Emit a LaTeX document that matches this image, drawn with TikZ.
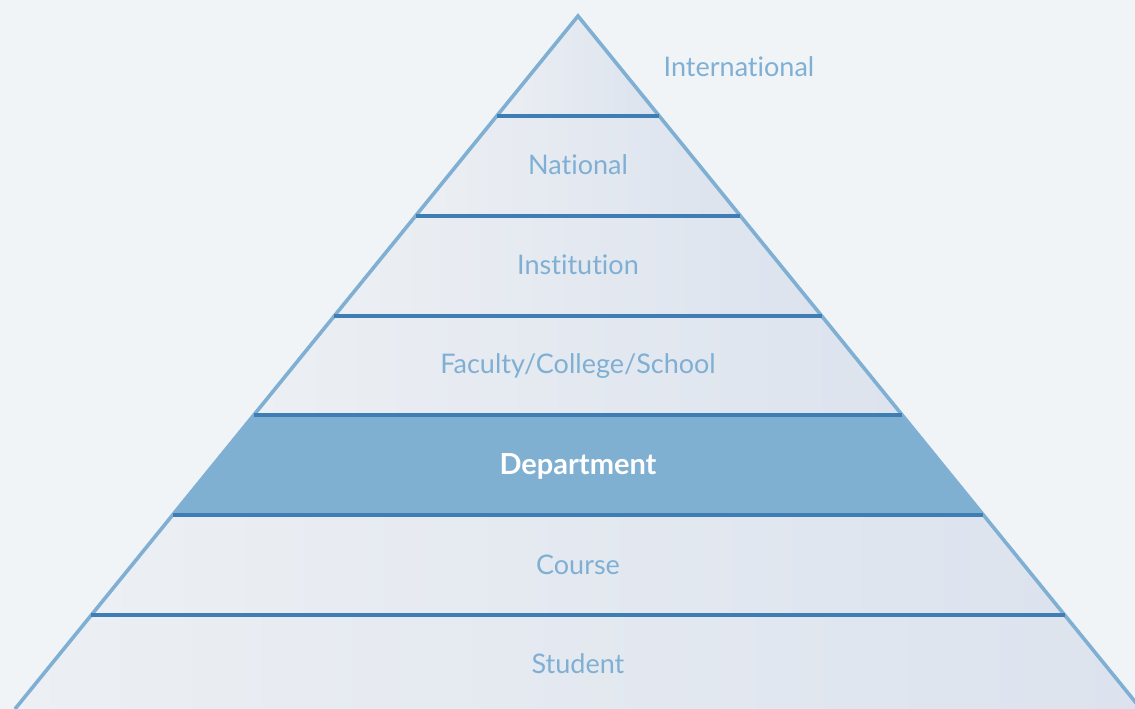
\documentclass[tikz,border=0pt]{standalone}
\usepackage{fontspec}
\setmainfont{Lato}[Ligatures=NoCommon]
\usetikzlibrary{calc}
\definecolor{bgc}{HTML}{F0F4F7}
\definecolor{edgec}{HTML}{7FB0D4}
\definecolor{bandc}{HTML}{3F7DB5}
\definecolor{deptc}{HTML}{7FAFD1}
\definecolor{lightL}{HTML}{ECEFF3}
\definecolor{lightR}{HTML}{DCE3EE}
\definecolor{txtc}{HTML}{7FB0D4}
\tikzset{
  lvl/.style={font=\fontsize{27}{32}\selectfont, text=txtc, inner sep=0pt, anchor=center},
  deptlbl/.style={font=\bfseries\fontsize{29}{34}\selectfont, text=white, inner sep=0pt},
  bandline/.style={draw=bandc, line width=3.6pt},
  edgeline/.style={draw=edgec, line width=3.6pt, line join=miter},
}
\begin{document}
\begin{tikzpicture}[x=1pt,y=-1pt]
\useasboundingbox (0,0) rectangle (1135,709);
\fill[bgc] (0,0) rectangle (1135,709);
\coordinate (A) at (578,16);
\coordinate (BL) at (15,709);
\coordinate (BR) at (1141,709);
% edge points of each band boundary
\foreach \n/\t in {1/0.1443,2/0.2886,3/0.4329,4/0.5758,5/0.7201,6/0.8644}{
  \coordinate (L\n) at ($(A)!\t!(BL)$);
  \coordinate (R\n) at ($(A)!\t!(BR)$);
}
% band fills
\shade[left color=lightL, right color=lightR] (A) -- (R1) -- (L1) -- cycle;
\shade[left color=lightL, right color=lightR] (L1) -- (R1) -- (R2) -- (L2) -- cycle;
\shade[left color=lightL, right color=lightR] (L2) -- (R2) -- (R3) -- (L3) -- cycle;
\shade[left color=lightL, right color=lightR] (L3) -- (R3) -- (R4) -- (L4) -- cycle;
\fill[deptc] (L4) -- (R4) -- (R5) -- (L5) -- cycle;
\shade[left color=lightL, right color=lightR] (L5) -- (R5) -- (R6) -- (L6) -- cycle;
\shade[left color=lightL, right color=lightR] (L6) -- (R6) -- (BR) -- (BL) -- cycle;
% outline
\draw[edgeline] (BL) -- (A) -- (BR);
% band lines
\foreach \n in {1,...,6}{
  \draw[bandline] (L\n) -- (R\n);
}
% labels
\node[lvl] (intl) at (739,67) {International};
\node[lvl] (natl) at (578,165) {National};
\node[lvl] (inst) at (578,265) {Institution};
\node[lvl] (fac) at (578,366) {Faculty/College/School};
\node[deptlbl] (dept) at (578,466) {Department};
\node[lvl] (course) at (578,565) {Course};
\node[lvl] (stud) at (578,664) {Student};
\end{tikzpicture}
\end{document}
